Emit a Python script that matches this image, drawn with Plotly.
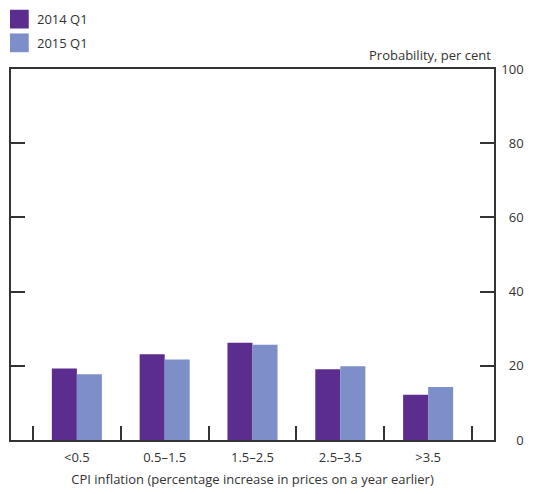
import plotly.graph_objects as go

# ── datos ─────────────────────────────────────────────
categorias = ["&lt;0.5", "0.5–1.5", "1.5–2.5", "2.5–3.5", "&gt;3.5"]
serie_2014 = [19.3, 23.1, 26.2, 19.1, 12.2]
serie_2015 = [17.7, 21.7, 25.7, 19.9, 14.3]
nombres = ["2014 Q1", "2015 Q1"]
y_ticks = [0, 20, 40, 60, 80, 100]
# etiquetas alineadas a la derecha con espacios de cifra
y_ticktext = ["\u2007\u20070", "\u200720", "\u200740", "\u200760", "\u200780", "100"]

COLORES = ["#5a2d8f", "#7d8fc8"]
FUENTE = "Open Sans"
GRIS = "#333333"

W, H = 533, 494
PX_L, PX_R, PX_T, PX_B = 9, 499, 69, 444.7   # caja del gráfico en px


def px_x(x):
    return (x - PX_L) / (PX_R - PX_L)


def px_y(y):
    return (PX_B - y) / (PX_B - PX_T)


fig = go.Figure()
for nombre, valores, color in zip(nombres, [serie_2014, serie_2015], COLORES):
    fig.add_trace(go.Bar(
        name=nombre, x=categorias, y=valores,
        marker=dict(color=color, line=dict(width=0)),
        showlegend=False,
    ))

# leyenda manual (cuadros grandes como en el original)
for i, (nombre, color) in enumerate(zip(nombres, COLORES)):
    y0 = 9 + i * 24
    fig.add_shape(type="rect", xref="paper", yref="paper",
                  x0=px_x(8), x1=px_x(27),
                  y0=px_y(y0 + 19), y1=px_y(y0),
                  fillcolor=color, line=dict(width=0))
    fig.add_annotation(text=nombre, xref="paper", yref="paper",
                       x=px_x(33), y=px_y(y0 + 9.5),
                       xanchor="left", yanchor="middle", showarrow=False,
                       font=dict(family=FUENTE, size=13, color=GRIS))

fig.add_annotation(text="Probability, per cent", xref="paper", yref="paper",
                   x=px_x(498), y=px_y(55), xanchor="right", yanchor="middle",
                   showarrow=False, font=dict(family=FUENTE, size=13, color=GRIS))

fig.update_layout(
    width=W, height=H,
    margin=dict(l=PX_L, r=W - PX_R, t=PX_T, b=H - PX_B, pad=0),
    plot_bgcolor="white", paper_bgcolor="white",
    barmode="group", bargap=0.43, bargroupgap=0,
    font=dict(family=FUENTE, size=13, color=GRIS),
    xaxis=dict(
        range=[-0.75, 4.75], showgrid=False, zeroline=False,
        showline=True, linecolor=GRIS, linewidth=1.5, mirror=True,
        ticks="inside", tickson="boundaries", ticklen=14,
        tickcolor=GRIS, tickwidth=1.5, ticklabelstandoff=5,
        tickfont=dict(size=13, color=GRIS),
        title=dict(text="CPI inflation (percentage increase in prices on a year earlier)",
                   font=dict(size=13, color=GRIS), standoff=10),
    ),
    yaxis=dict(
        side="right", range=[0, 100], tickvals=y_ticks, ticktext=y_ticktext,
        showgrid=False, zeroline=False,
        showline=True, linecolor=GRIS, linewidth=1.5, mirror="ticks",
        ticks="inside", ticklen=14, tickcolor=GRIS, tickwidth=1.5,
        ticklabelstandoff=3,
        tickfont=dict(size=13, color=GRIS),
    ),
)

# sin margen del body para que la figura ocupe toda la ventana
fig.write_html("out.html", config={"displayModeBar": False},
               post_script="document.body.style.margin='0';")
